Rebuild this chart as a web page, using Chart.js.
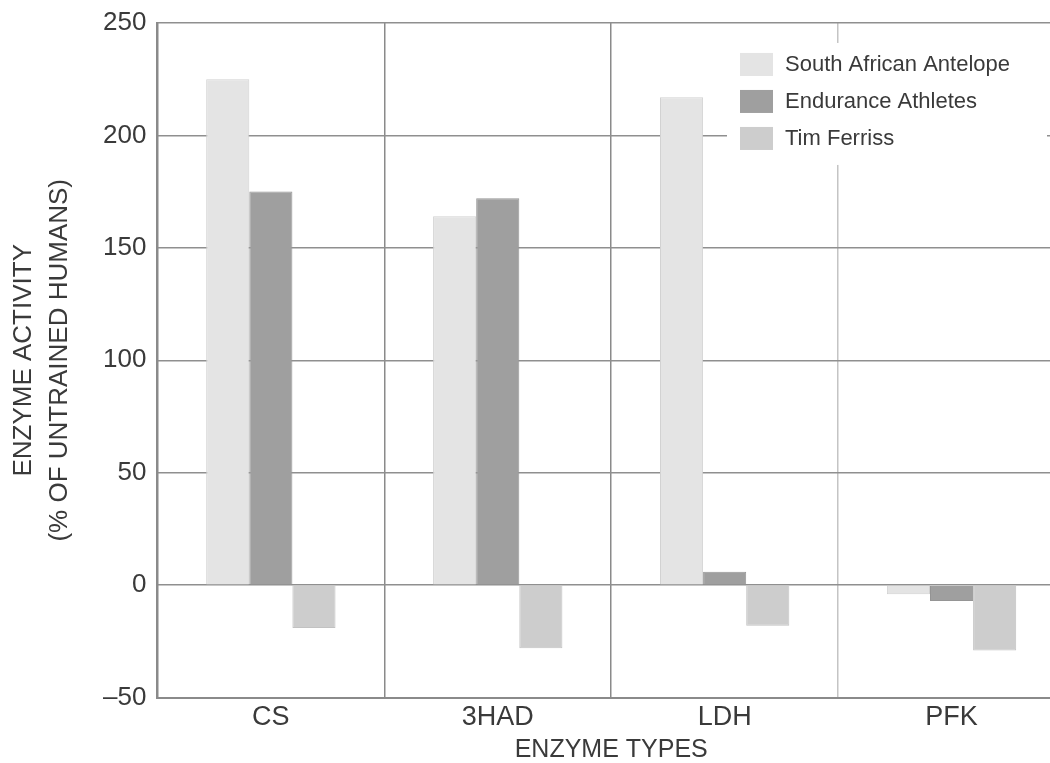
<!DOCTYPE html>
<html>
<head>
    <title>Enzyme activity</title>
    <script src="https://cdn.jsdelivr.net/npm/chart.js"></script>
    <style>
        html, body {
            margin: 0;
            padding: 0;
            overflow: hidden;
            background: #fff;
        }
        canvas {
            display: block;
        }
    </style>
</head>
<body>
<canvas id="enzymeChart" width="1070" height="763"></canvas>

<script>
    // data
    const categories = ['CS', '3HAD', 'LDH', 'PFK'];
    const antelope = [225, 164, 217, -4];
    const athletes = [175, 172, 6, -7];
    const ferriss = [-19, -28, -18, -29];
    const seriesNames = ['South African Antelope', 'Endurance Athletes', 'Tim Ferriss'];
    const yTicks = [-50, 0, 50, 100, 150, 200, 250];

    const fontFamily = "'Liberation Sans', Arial, sans-serif";
    const textColor = '#3a3a3a';

    // legend drawn inside the plot, top right, on a white patch
    const insideLegend = {
        id: 'insideLegend',
        afterDraw(chart) {
            const c = chart.ctx;
            const area = chart.chartArea;
            const x0 = area.right - 325;
            const y0 = area.top + 30;
            c.save();
            c.fillStyle = '#fff';
            c.fillRect(x0 - 13, area.top + 20, 320, 122);
            c.font = '22px ' + fontFamily;
            c.textBaseline = 'middle';
            chart.data.datasets.forEach(function(ds, i) {
                const y = y0 + i * 37;
                c.fillStyle = ds.backgroundColor;
                c.fillRect(x0, y, 33, 23);
                c.fillStyle = textColor;
                c.fillText(ds.label, x0 + 45, y + 12);
            });
            c.restore();
        }
    };

    const ctx = document.getElementById('enzymeChart').getContext('2d');

    const chart = new Chart(ctx, {
        type: 'bar',
        data: {
            labels: categories,
            datasets: [
                {
                    label: seriesNames[0],
                    data: antelope,
                    backgroundColor: '#e4e4e4',
                    borderColor: '#d2d2d2',
                    borderWidth: 1
                },
                {
                    label: seriesNames[1],
                    data: athletes,
                    backgroundColor: '#9f9f9f',
                    borderColor: '#959595',
                    borderWidth: 1
                },
                {
                    label: seriesNames[2],
                    data: ferriss,
                    backgroundColor: '#cdcdcd',
                    borderColor: '#c2c2c2',
                    borderWidth: 1
                }
            ]
        },
        plugins: [insideLegend],
        options: {
            responsive: false,
            animation: false,
            categoryPercentage: 0.57,
            barPercentage: 1.0,
            layout: {
                padding: { top: 3, right: 5, left: 6, bottom: 0 }
            },
            plugins: {
                legend: { display: false },
                tooltip: { enabled: false }
            },
            scales: {
                x: {
                    offset: true,
                    grid: {
                        offset: true,
                        drawTicks: false,
                        lineWidth: 1.5,
                        color: function(c) {
                            return c.index === 3 ? '#c4c4c4' : '#8a8a8a';
                        }
                    },
                    border: { color: '#8a8a8a', width: 2 },
                    ticks: {
                        color: textColor,
                        padding: 4,
                        font: { family: fontFamily, size: 27 }
                    },
                    title: {
                        display: true,
                        text: 'ENZYME TYPES',
                        color: textColor,
                        padding: { top: 0, bottom: 0 },
                        font: { family: fontFamily, size: 25, lineHeight: 1.0 }
                    }
                },
                y: {
                    min: -50,
                    max: 250,
                    afterBuildTicks: function(axis) {
                        axis.ticks = yTicks.map(function(v) { return { value: v }; });
                    },
                    grid: {
                        drawTicks: false,
                        lineWidth: 1.5,
                        color: '#8f8f8f'
                    },
                    border: { color: '#8a8a8a', width: 2 },
                    ticks: {
                        color: textColor,
                        padding: 11,
                        font: { family: fontFamily, size: 26, lineHeight: 0.92 },
                        callback: function(v) {
                            return String(v).replace('-', '\u2013');
                        }
                    },
                    title: {
                        display: true,
                        text: ['ENZYME ACTIVITY', '(% OF UNTRAINED HUMANS)'],
                        color: textColor,
                        padding: { top: 0, bottom: 14 },
                        font: { family: fontFamily, size: 26, lineHeight: 1.385 }
                    }
                }
            }
        }
    });
</script>
</body>
</html>
